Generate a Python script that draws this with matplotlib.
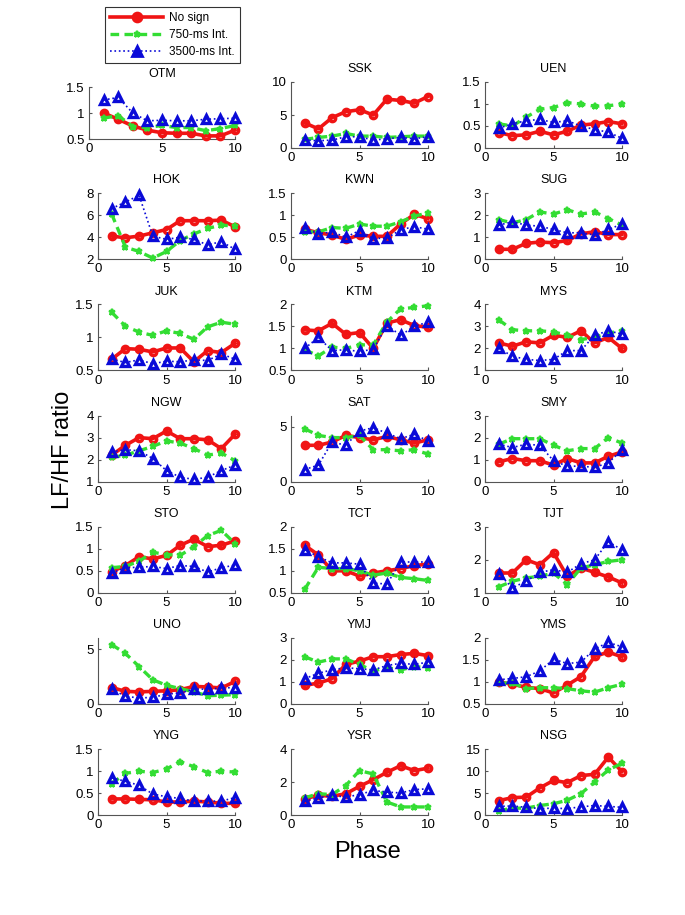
import matplotlib
matplotlib.use("Agg")
import matplotlib.pyplot as plt
from matplotlib.lines import Line2D
from matplotlib.ticker import FuncFormatter

plt.rcParams['font.family'] = ['Liberation Sans', 'DejaVu Sans']

phase = [1, 2, 3, 4, 5, 6, 7, 8, 9, 10]

subjects = ['OTM', 'SSK', 'UEN', 'HOK', 'KWN', 'SUG', 'JUK', 'KTM', 'MYS',
            'NGW', 'SAT', 'SMY', 'STO', 'TCT', 'TJT', 'UNO', 'YMJ', 'YMS',
            'YNG', 'YSR', 'NSG']

# LF/HF ratio, "No sign"
no_sign = [
    [1.0, 0.88, 0.75, 0.67, 0.62, 0.61, 0.61, 0.56, 0.56, 0.67],
    [3.8, 2.9, 4.6, 5.5, 5.8, 5.0, 7.4, 7.2, 6.8, 7.8],
    [0.35, 0.28, 0.30, 0.38, 0.30, 0.38, 0.52, 0.55, 0.60, 0.55],
    [4.1, 3.95, 4.1, 4.4, 4.7, 5.5, 5.5, 5.5, 5.55, 4.95],
    [0.68, 0.60, 0.55, 0.45, 0.55, 0.52, 0.52, 0.80, 1.02, 0.92],
    [0.45, 0.45, 0.72, 0.78, 0.75, 0.85, 1.15, 1.25, 1.12, 1.12],
    [0.67, 0.83, 0.82, 0.78, 0.84, 0.84, 0.63, 0.80, 0.77, 0.91],
    [1.42, 1.40, 1.57, 1.32, 1.36, 1.0, 1.58, 1.65, 1.52, 1.48],
    [2.25, 2.1, 2.3, 2.25, 2.6, 2.5, 2.8, 2.25, 2.5, 2.0],
    [2.2, 2.65, 3.0, 2.95, 3.3, 2.95, 2.95, 2.9, 2.5, 3.15],
    [3.3, 3.3, 3.6, 4.2, 4.0, 3.8, 4.1, 3.8, 3.5, 3.8],
    [0.9, 1.05, 0.95, 0.95, 0.75, 1.05, 0.85, 0.85, 1.15, 1.35],
    [0.48, 0.62, 0.82, 0.77, 0.85, 1.08, 1.22, 1.05, 1.08, 1.18],
    [1.58, 1.36, 1.0, 1.0, 0.88, 0.95, 1.0, 1.05, 1.12, 1.15],
    [1.6, 1.6, 2.0, 1.85, 2.22, 1.5, 1.75, 1.62, 1.48, 1.3],
    [1.5, 1.15, 1.1, 1.15, 1.2, 1.3, 1.6, 1.55, 1.45, 2.05],
    [0.85, 0.95, 1.15, 1.8, 1.95, 2.15, 2.15, 2.25, 2.3, 2.2],
    [1.0, 0.95, 0.88, 0.85, 0.75, 0.93, 1.12, 1.58, 1.68, 1.57],
    [0.37, 0.37, 0.36, 0.35, 0.30, 0.30, 0.32, 0.30, 0.27, 0.27],
    [1.0, 1.2, 1.15, 1.3, 1.75, 2.15, 2.6, 3.0, 2.7, 2.85],
    [3.3, 4.0, 4.1, 6.2, 7.9, 7.4, 9.0, 9.3, 13.2, 9.9],
]

# "750-ms Int."
int750 = [
    [0.9, 0.95, 0.74, 0.72, 0.76, 0.72, 0.72, 0.66, 0.70, 0.76],
    [1.3, 1.6, 1.8, 2.2, 1.8, 1.8, 1.6, 1.7, 1.8, 1.8],
    [0.55, 0.50, 0.70, 0.88, 0.92, 1.03, 1.00, 0.95, 0.96, 1.00],
    [6.1, 3.1, 2.7, 2.1, 2.7, 3.7, 4.3, 4.8, 5.1, 5.0],
    [0.62, 0.62, 0.72, 0.70, 0.80, 0.75, 0.75, 0.85, 0.98, 1.05],
    [1.8, 1.65, 1.8, 2.15, 2.05, 2.25, 2.05, 2.15, 1.85, 1.55],
    [1.38, 1.17, 1.08, 1.03, 1.10, 1.06, 0.97, 1.16, 1.23, 1.20],
    [0.97, 0.83, 1.03, 1.0, 1.08, 1.08, 1.6, 1.9, 1.93, 1.97],
    [3.3, 2.85, 2.8, 2.8, 2.75, 2.6, 2.4, 2.5, 2.7, 2.8],
    [2.1, 2.2, 2.4, 2.6, 2.85, 2.75, 2.5, 2.2, 2.3, 1.95],
    [4.8, 4.2, 4.0, 4.0, 4.2, 2.9, 2.9, 2.8, 2.9, 2.5],
    [1.7, 1.95, 1.95, 1.95, 1.65, 1.4, 1.5, 1.5, 2.0, 1.75],
    [0.57, 0.6, 0.72, 0.92, 0.87, 0.85, 1.05, 1.3, 1.42, 1.12],
    [0.58, 1.08, 1.05, 1.05, 1.0, 0.9, 0.95, 0.85, 0.82, 0.78],
    [1.18, 1.35, 1.45, 1.5, 1.6, 1.25, 1.75, 1.85, 1.95, 2.0],
    [5.4, 4.6, 3.4, 2.2, 1.7, 1.4, 1.1, 0.75, 0.8, 0.85],
    [2.15, 1.9, 2.05, 2.05, 1.8, 1.5, 1.65, 1.55, 1.7, 1.65],
    [0.97, 0.98, 0.85, 0.87, 0.87, 0.85, 0.8, 0.77, 0.87, 0.95],
    [0.72, 0.95, 1.0, 0.97, 1.05, 1.22, 1.1, 0.97, 1.0, 0.98],
    [1.05, 1.3, 1.25, 1.8, 2.7, 2.5, 0.8, 0.5, 0.5, 0.5],
    [1.0, 1.6, 1.6, 2.2, 2.6, 3.4, 4.9, 7.5, 10.3, 11.8],
]

# "3500-ms Int."
int3500 = [
    [1.25, 1.30, 1.0, 0.85, 0.86, 0.85, 0.85, 0.88, 0.89, 0.9],
    [1.2, 1.1, 1.2, 1.7, 1.7, 1.2, 1.4, 1.6, 1.4, 1.7],
    [0.45, 0.55, 0.62, 0.65, 0.58, 0.62, 0.50, 0.42, 0.36, 0.22],
    [6.6, 7.2, 7.8, 4.1, 3.8, 4.0, 3.8, 3.3, 3.6, 2.9],
    [0.70, 0.58, 0.62, 0.50, 0.65, 0.47, 0.48, 0.67, 0.74, 0.68],
    [1.55, 1.7, 1.55, 1.5, 1.35, 1.2, 1.2, 1.1, 1.35, 1.6],
    [0.67, 0.62, 0.66, 0.60, 0.64, 0.63, 0.66, 0.65, 0.75, 0.67],
    [1.0, 1.25, 0.95, 0.97, 0.93, 0.98, 1.52, 1.3, 1.5, 1.6],
    [2.0, 1.65, 1.5, 1.45, 1.5, 1.9, 1.9, 2.6, 2.8, 2.65],
    [2.35, 2.45, 2.4, 2.05, 1.5, 1.2, 1.1, 1.2, 1.5, 1.75],
    [1.1, 1.5, 3.6, 3.3, 4.6, 4.9, 4.4, 3.9, 4.3, 3.7],
    [1.7, 1.55, 1.7, 1.65, 0.95, 0.7, 0.7, 0.65, 0.85, 1.45],
    [0.45, 0.57, 0.58, 0.6, 0.55, 0.62, 0.6, 0.47, 0.57, 0.63],
    [1.48, 1.32, 1.18, 1.18, 1.15, 0.72, 0.7, 1.2, 1.2, 1.2],
    [1.58, 1.15, 1.35, 1.62, 1.7, 1.62, 1.88, 2.0, 2.55, 2.3],
    [1.35, 0.7, 0.55, 0.6, 0.9, 1.0, 1.35, 1.35, 1.45, 1.5],
    [1.15, 1.4, 1.55, 1.65, 1.6, 1.55, 1.75, 1.85, 1.8, 1.9],
    [1.05, 1.08, 1.12, 1.25, 1.52, 1.42, 1.45, 1.75, 1.9, 1.8],
    [0.85, 0.77, 0.68, 0.48, 0.42, 0.38, 0.32, 0.32, 0.32, 0.40],
    [0.85, 1.05, 1.2, 1.1, 1.25, 1.5, 1.4, 1.35, 1.55, 1.6],
    [2.0, 2.1, 1.8, 1.5, 1.6, 1.5, 1.9, 2.2, 2.0, 1.8],
]

y_limits = [(0.5, 1.5), (0, 10), (0, 1.5), (2, 8), (0, 1.5), (0, 3),
            (0.5, 1.5), (0.5, 2), (1, 4), (1, 4), (0, 6), (0, 3),
            (0, 1.5), (0.5, 2), (1, 3), (0, 6), (0, 3), (0.5, 2),
            (0, 1.5), (0, 4), (0, 15)]
y_ticks = [[0.5, 1, 1.5], [0, 5, 10], [0, 0.5, 1, 1.5], [2, 4, 6, 8],
           [0, 0.5, 1, 1.5], [0, 1, 2, 3], [0.5, 1, 1.5], [0.5, 1, 1.5, 2],
           [1, 2, 3, 4], [1, 2, 3, 4], [0, 5], [0, 1, 2, 3],
           [0, 0.5, 1, 1.5], [0.5, 1, 1.5, 2], [1, 2, 3], [0, 5],
           [0, 1, 2, 3], [0.5, 1, 1.5, 2], [0, 0.5, 1, 1.5], [0, 2, 4],
           [0, 5, 10, 15]]

RED = '#f01414'
GREEN = '#33dd33'
BLUE = '#0a0ad8'

W, H = 685, 915
fig = plt.figure(figsize=(W / 100, H / 100), dpi=100)


def px_rect(left, right, top, bottom):
    return [left / W, 1 - bottom / H, (right - left) / W, (bottom - top) / H]


col_x = [(98, 235), (291, 428), (485, 622)]
row_bottom = [148 + 111.2 * i for i in range(7)]
ax_h = 66

fmt = FuncFormatter(lambda v, p: ('%g' % v))
dash = (0, (2.6, 1.6))

for k, name in enumerate(subjects):
    r, c = divmod(k, 3)
    x0, x1 = col_x[c]
    if k == 0:
        # first panel is squeezed by the legend
        rect = px_rect(89, 235, 87, 139)
    else:
        rect = px_rect(x0, x1, row_bottom[r] - ax_h, row_bottom[r])
    ax = fig.add_axes(rect)
    ax.plot(phase, no_sign[k], color=RED, ls='-', lw=2.6, marker='o', ms=4.6,
            mfc='none', mew=2.4, clip_on=False, zorder=3)
    ax.plot(phase, int750[k], color=GREEN, ls=dash, lw=2.4,
            marker='*', ms=5, mew=1.6, clip_on=False, zorder=4)
    ax.plot(phase, int3500[k], color=BLUE, ls=':', lw=1.2, marker='^', ms=6,
            mfc='none', mew=2.4, clip_on=False, zorder=5)
    ax.set_xlim(0, 10)
    ax.set_ylim(*y_limits[k])
    ax.set_xticks([0, 5, 10])
    ax.set_yticks(y_ticks[k])
    ax.yaxis.set_major_formatter(fmt)
    ax.set_title(name, fontsize=9, pad=7)
    for s in ['top', 'right']:
        ax.spines[s].set_visible(False)
    for s in ['left', 'bottom']:
        ax.spines[s].set_color('#555555')
        ax.spines[s].set_linewidth(0.8)
    ax.tick_params(direction='in', length=2.5, width=0.8, color='#555555',
                   labelsize=9.5, pad=3)
    ax.patch.set_alpha(0)

fig.text(368 / W, 1 - 852 / H, 'Phase', fontsize=17, ha='center', va='center')
fig.text(63 / W, 1 - 450 / H, 'LF/HF ratio', fontsize=17, rotation=90,
         ha='center', va='center')

handles = [
    Line2D([], [], color=RED, lw=2.6, marker='o', ms=6, mew=2.4),
    Line2D([], [], color=GREEN, ls=dash, lw=2.4, marker='*', ms=5, mew=1.6),
    Line2D([], [], color=BLUE, ls=':', lw=1.2, marker='^', ms=7, mew=2),
]
leg = fig.legend(handles, ['No sign', '750-ms Int.', '3500-ms Int.'],
                 loc='upper left', bbox_to_anchor=(105 / W, 1 - 7 / H),
                 fontsize=8.5, frameon=True, fancybox=False,
                 edgecolor='black', handlelength=4.5, borderpad=0.45,
                 labelspacing=0.4, handletextpad=0.5, borderaxespad=0)
leg.get_frame().set_linewidth(0.8)

fig.savefig('out.png', dpi=100)
